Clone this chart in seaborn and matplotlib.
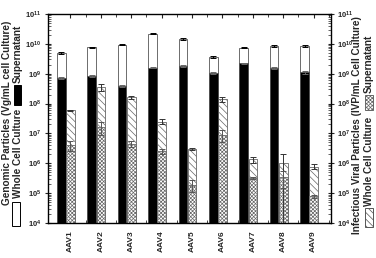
import numpy as np
import pandas as pd
import matplotlib
matplotlib.use("Agg")
import matplotlib.pyplot as plt
import matplotlib.ticker as mticker
from matplotlib.patches import Rectangle
import seaborn as sns

# values (particles / mL culture)
serotypes = ["AAV1", "AAV2", "AAV3", "AAV4", "AAV5", "AAV6", "AAV7", "AAV8", "AAV9"]

vg_whole = [5.0e9, 7.7e9, 9.5e9, 2.2e10, 1.45e10, 3.7e9, 7.4e9, 8.5e9, 8.5e9]
vg_whole_err = [0.3e9, 0.4e9, 0.5e9, 1.2e9, 0.8e9, 0.3e9, 0.4e9, 0.9e9, 0.9e9]
vg_sup = [7.2e8, 8.3e8, 4.0e8, 1.6e9, 1.85e9, 1.05e9, 2.2e9, 1.55e9, 1.1e9]
vg_sup_err = [0.6e8, 0.8e8, 0.3e8, 0.1e9, 0.12e9, 0.08e9, 0.15e9, 0.1e9, 0.1e9]

ivp_whole = [6.0e7, 3.5e8, 1.6e8, 2.5e7, 3.0e6, 1.4e8, 1.35e6, 1.05e6, 7.7e5]
ivp_whole_err = [0.2e7, 0.9e8, 0.2e8, 0.5e7, 0.2e6, 0.25e8, 0.3e6, 1.05e6, 1.5e5]
ivp_sup = [4.0e6, 1.7e7, 4.4e6, 2.5e6, 1.9e5, 9.0e6, 3.2e5, 3.5e5, 8.0e4]
ivp_sup_err = [1.5e6, 0.8e7, 1.0e6, 0.5e6, 0.8e5, 4.0e6, 0.3e5, 2.0e5, 1.0e4]

decades = [1e4, 1e5, 1e6, 1e7, 1e8, 1e9, 1e10, 1e11]

df = pd.DataFrame({
    "serotype": serotypes * 2,
    "assay": ["Genomic"] * 9 + ["Infectious"] * 9,
    "whole": vg_whole + ivp_whole,
    "whole_err": vg_whole_err + ivp_whole_err,
    "sup": vg_sup + ivp_sup,
    "sup_err": vg_sup_err + ivp_sup_err,
})

sns.set_style("ticks")
plt.rcParams["font.family"] = ["Liberation Sans", "DejaVu Sans"]
plt.rcParams["font.weight"] = "bold"
plt.rcParams["mathtext.fontset"] = "custom"
plt.rcParams["mathtext.rm"] = "Liberation Sans:bold"
plt.rcParams["mathtext.bf"] = "Liberation Sans:bold"
plt.rcParams["mathtext.it"] = "Liberation Sans:bold"
plt.rcParams["hatch.linewidth"] = 0.5

fig = plt.figure(figsize=(3.76, 2.58), dpi=100)
ax = fig.add_axes([48 / 376, 1 - 223 / 258, 283 / 376, 209 / 258])

# whole cell culture bars (behind)
sns.barplot(data=df, x="serotype", y="whole", hue="assay", dodge=True,
            width=0.6, gap=0.06, palette={"Genomic": "white", "Infectious": "white"},
            edgecolor="#555555", linewidth=0.6, legend=False, ax=ax, errorbar=None)
n_whole = len(ax.containers)
for bar in ax.containers[1]:
    bar.set_hatch("\\\\\\\\\\")
    bar.set_edgecolor("#666666")

# supernatant bars (front)
sns.barplot(data=df, x="serotype", y="sup", hue="assay", dodge=True,
            width=0.6, gap=0.06, palette={"Genomic": "black", "Infectious": "white"},
            edgecolor="#555555", linewidth=0.6, legend=False, ax=ax, errorbar=None)
for bar in ax.containers[n_whole + 1]:
    bar.set_hatch("xxxxxxxxx")
    bar.set_edgecolor("#666666")

# error bars on top of each bar
err_sets = [
    (ax.containers[0], vg_whole_err, "black"),
    (ax.containers[1], ivp_whole_err, "#333333"),
    (ax.containers[n_whole], vg_sup_err, "#666666"),
    (ax.containers[n_whole + 1], ivp_sup_err, "#555555"),
]
for cont, errs, col in err_sets:
    xs = [b.get_x() + b.get_width() / 2 for b in cont]
    hs = [b.get_height() for b in cont]
    ax.errorbar(xs, hs, yerr=errs, fmt="none", ecolor=col, elinewidth=0.7,
                capsize=2, capthick=0.7, zorder=5)

ax.set_yscale("log")
ax.set_ylim(decades[0], decades[-1])
ax.set_xlim(-0.59, 8.72)
ax.set_yticks(decades)
ax.yaxis.set_minor_locator(mticker.LogLocator(base=10, subs=np.arange(2, 10), numticks=20))
ax.yaxis.set_minor_formatter(mticker.NullFormatter())

ax.set_xticks(np.arange(9) + 0.15, serotypes, rotation=90, fontsize=6, fontweight="bold")
ax.set_xticks(np.arange(9) + 0.65, minor=True)
ax.set_xlabel("")
ax.set_ylabel("")

for s in ax.spines.values():
    s.set_visible(True)
    s.set_linewidth(1.0)
    s.set_color("black")

ax.tick_params(axis="x", which="major", direction="in", length=3, width=0.8,
               top=True, bottom=True, pad=5)
ax.tick_params(axis="x", which="minor", direction="in", length=2, width=0.6,
               top=True, bottom=True)
ax.tick_params(axis="y", which="major", direction="inout", length=5, width=0.8,
               left=True, right=True, labelleft=True, labelright=True,
               labelsize=5.5, pad=2)
ax.tick_params(axis="y", which="minor", direction="in", length=2, width=0.5,
               left=True, right=True)

# left label with its legend line
lab_kw = dict(rotation=90, fontsize=7.2, fontweight="bold")
fig.text(7 / 376, 1 - 113 / 258, "Genomic Particles (Vg/mL cell Culture)",
         ha="center", va="center", **lab_kw)
fig.text(18 / 376, 1 - 198 / 258, "Whole Cell Culture", ha="center", va="bottom", **lab_kw)
fig.text(18 / 376, 1 - 83 / 258, "Supernatant", ha="center", va="bottom", **lab_kw)
fig.add_artist(Rectangle((12 / 376, 1 - 226 / 258), 8 / 376, 24 / 258,
                         transform=fig.transFigure, facecolor="white",
                         edgecolor="black", linewidth=0.7))
fig.add_artist(Rectangle((14 / 376, 1 - 105 / 258), 7 / 376, 20 / 258,
                         transform=fig.transFigure, facecolor="black",
                         edgecolor="black", linewidth=0.7))

# right label with its legend line
fig.text(357 / 376, 1 - 125 / 258, "Infectious Viral Particles (IVP/mL Cell Culture)",
         ha="center", va="center", **lab_kw)
fig.text(369 / 376, 1 - 206 / 258, "Whole Cell Culture", ha="center", va="bottom", **lab_kw)
fig.text(369 / 376, 1 - 93 / 258, "Supernatant", ha="center", va="bottom", **lab_kw)
fig.add_artist(Rectangle((365 / 376, 1 - 227 / 258), 8 / 376, 19 / 258,
                         transform=fig.transFigure, facecolor="white", hatch="\\\\\\\\\\",
                         edgecolor="#555555", linewidth=0.7))
fig.add_artist(Rectangle((365 / 376, 1 - 110 / 258), 8 / 376, 15 / 258,
                         transform=fig.transFigure, facecolor="white", hatch="xxxxxxxxx",
                         edgecolor="#666666", linewidth=0.7))

fig.savefig("out.png", dpi=100)
